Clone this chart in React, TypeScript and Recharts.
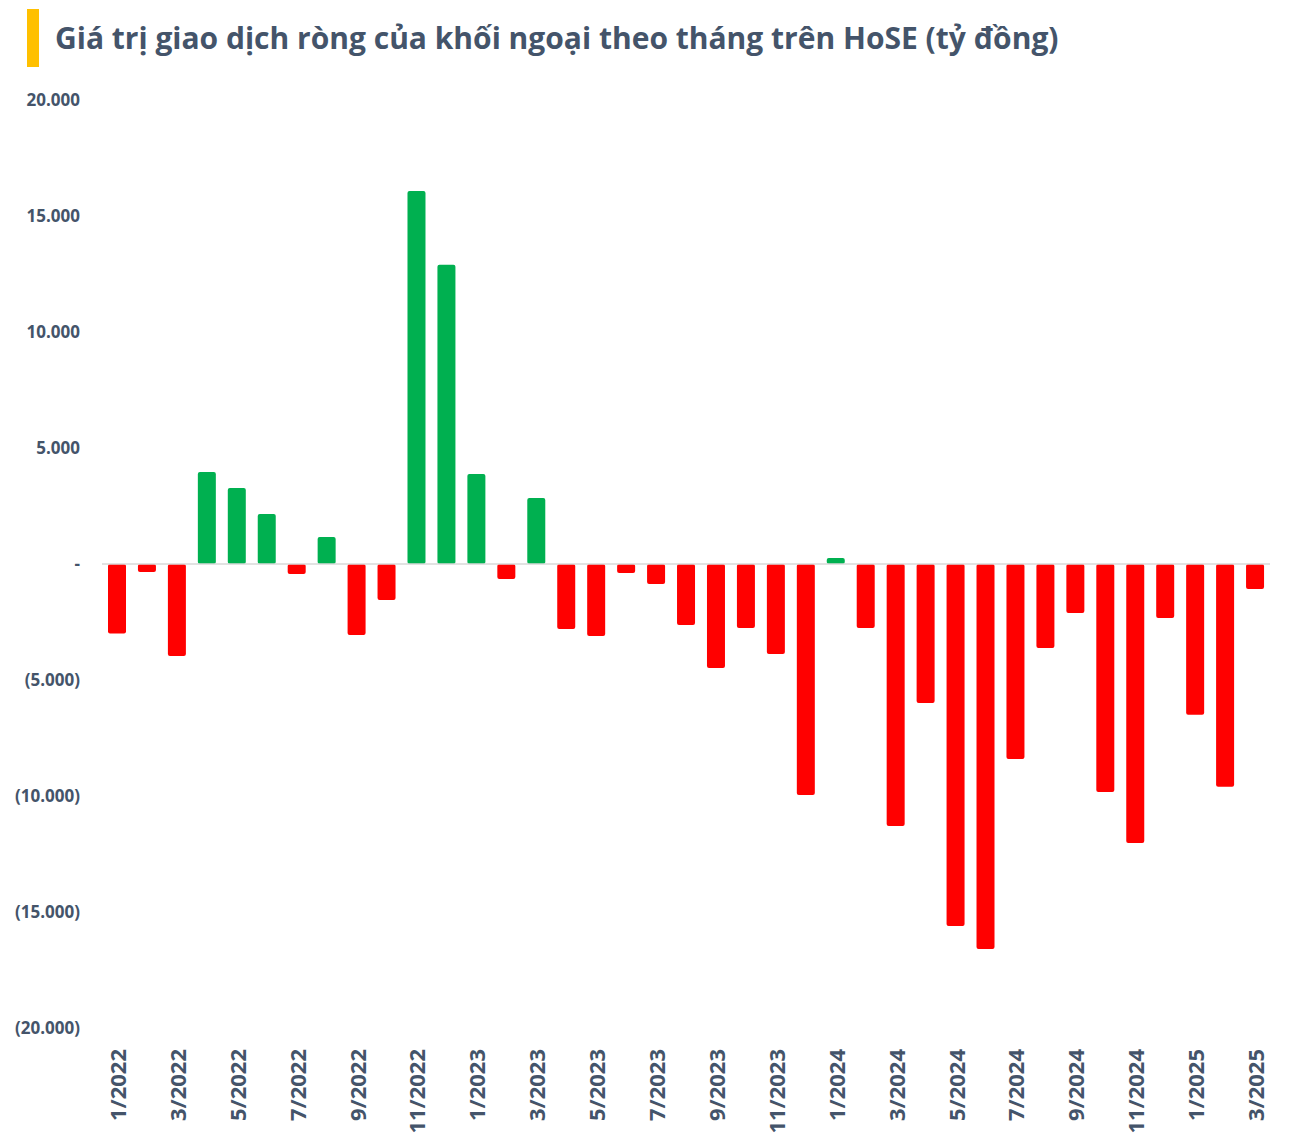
import React from "react";
import {BarChart, Bar, XAxis, YAxis, Cell, ReferenceLine} from "recharts";

const months = [
  "1/2022","2/2022","3/2022","4/2022","5/2022","6/2022","7/2022","8/2022","9/2022","10/2022","11/2022","12/2022",
  "1/2023","2/2023","3/2023","4/2023","5/2023","6/2023","7/2023","8/2023","9/2023","10/2023","11/2023","12/2023",
  "1/2024","2/2024","3/2024","4/2024","5/2024","6/2024","7/2024","8/2024","9/2024","10/2024","11/2024","12/2024",
  "1/2025","2/2025","3/2025",
];

// net foreign buy/sell, billion VND
const netValues = [
  -3000, -350, -3970, 3970, 3280, 2160, -430, 1160, -3060, -1550, 16080, 12900,
  3880, -650, 2840, -2800, -3100, -390, -860, -2630, -4480, -2760, -3880, -9960,
  260, -2760, -11290, -5990, -15600, -16600, -8400, -3620, -2110, -9830, -12030, -2330,
  -6500, -9600, -1080,
];

const yTicks = [-20000, -15000, -10000, -5000, 0, 5000, 10000, 15000, 20000];

const data = months.map((m, i) => ({month: m, value: netValues[i]}));

const textColor = "#44546A";
const font = "'Open Sans', sans-serif";

const fmt = (v: number) => {
  if (v === 0) return "-";
  const s = Math.abs(v).toLocaleString("de-DE");
  return v < 0 ? `(${s})` : s;
};

const MonthTick = (props: any) => {
  const {x, y, payload} = props;
  return (
    <text
      transform={`translate(${x},${y + 13}) rotate(-90)`}
      textAnchor="end"
      dominantBaseline="central"
      fill={textColor}
      fontFamily={font}
      fontWeight="bold"
      fontSize={22}
    >
      {payload.value}
    </text>
  );
};

export default function App() {
  return (
    <div style={{position: "absolute", left: 0, top: 0, width: 1290, height: 1144, background: "#fff"}}>
      <div style={{position: "absolute", left: 27, top: 9, width: 12, height: 58, background: "#FFC000"}} />
      <div
        style={{
          position: "absolute",
          left: 55,
          top: 18,
          fontFamily: font,
          fontWeight: "bold",
          fontSize: 30,
          color: textColor,
          whiteSpace: "nowrap",
          lineHeight: "40px",
        }}
      >
        Giá trị giao dịch ròng của khối ngoại theo tháng trên HoSE (tỷ đồng)
      </div>
      <BarChart
        width={1290}
        height={1144}
        data={data}
        margin={{top: 100, right: 20, bottom: 0, left: 0}}
      >
        <XAxis
          dataKey="month"
          axisLine={false}
          tickLine={false}
          interval={1}
          height={116}
          tick={<MonthTick />}
        />
        <YAxis
          width={102}
          domain={[-20000, 20000]}
          ticks={yTicks}
          axisLine={false}
          tickLine={false}
          tickSize={0}
          tickMargin={22}
          tickFormatter={fmt}
          tick={{fill: textColor, fontFamily: font, fontWeight: "bold", fontSize: 17}}
        />
        <ReferenceLine y={0} stroke="#D9D9D9" strokeWidth={1.5} />
        <Bar dataKey="value" barSize={18} radius={2} isAnimationActive={false}>
          {data.map((d, i) => (
            <Cell key={i} fill={d.value >= 0 ? "#00B050" : "#FF0000"} />
          ))}
        </Bar>
      </BarChart>
    </div>
  );
}
